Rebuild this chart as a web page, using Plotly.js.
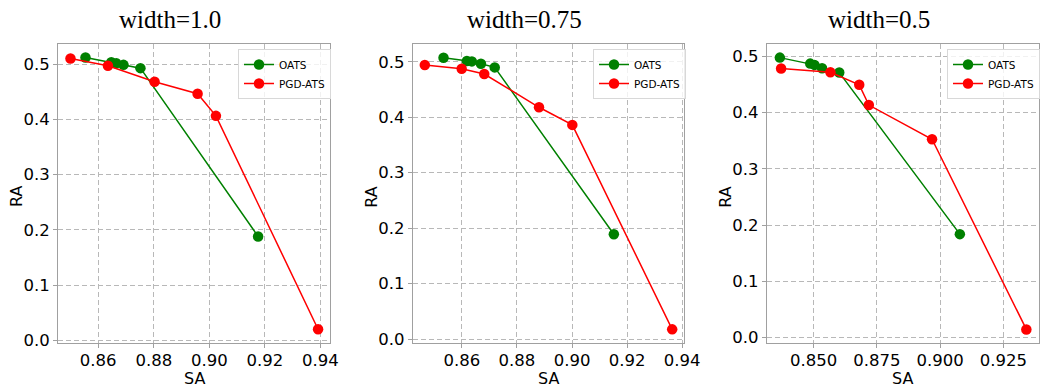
<!DOCTYPE html>
<html>
<head>
<meta charset="utf-8">
<script src="https://cdn.plot.ly/plotly-3.0.1.min.js"></script>
<style>
  body { margin: 0; padding: 0; background: #fff; }
  #graph { width: 1056px; height: 391px; }
</style>
</head>
<body>
<div id="graph"></div>
<script>
// Values, one set per width
const panelTitles = ["width=1.0", "width=0.75", "width=0.5"];

const oatsSA_w100 = [0.8554, 0.8647, 0.8665, 0.8691, 0.8752, 0.9176];
const oatsRA_w100 = [0.512, 0.5036, 0.5018, 0.4988, 0.4928, 0.1883];
const pgdSA_w100 = [0.8500, 0.8635, 0.8803, 0.8958, 0.9024, 0.9392];
const pgdRA_w100 = [0.5102, 0.497, 0.4682, 0.4466, 0.4065, 0.0204];

const oatsSA_w075 = [0.8533, 0.8618, 0.8636, 0.8669, 0.8719, 0.9152];
const oatsRA_w075 = [0.5072, 0.5012, 0.5006, 0.4964, 0.4898, 0.1888];
const pgdSA_w075 = [0.8465, 0.8599, 0.8681, 0.8880, 0.9001, 0.9364];
const pgdRA_w075 = [0.494, 0.4874, 0.4778, 0.4179, 0.3861, 0.0174];

const oatsSA_w050 = [0.8366, 0.8486, 0.8503, 0.8533, 0.8601, 0.9078];
const oatsRA_w050 = [0.4976, 0.487, 0.4847, 0.4788, 0.4711, 0.184];
const pgdSA_w050 = [0.8371, 0.8566, 0.8680, 0.8718, 0.8968, 0.9341];
const pgdRA_w050 = [0.4782, 0.4717, 0.4493, 0.4133, 0.3526, 0.0147];

const oatsColor = "#008000";
const pgdColor = "#ff0000";

const W = 1056, H = 391;
const px = v => v / W;
const py = v => (H - v) / H;

const panels = [
  { oats: [oatsSA_w100, oatsRA_w100], pgd: [pgdSA_w100, pgdRA_w100],
    x0: 58, x1: 330, xr: [0.8455, 0.9435], yr: [-0.0045, 0.5365],
    dtick: 0.02, fmt: ".2f", titleX: 169.5, legX: 238 },
  { oats: [oatsSA_w075, oatsRA_w075], pgd: [pgdSA_w075, pgdRA_w075],
    x0: 412.7, x1: 684.3, xr: [0.8421, 0.9408], yr: [-0.0072, 0.532],
    dtick: 0.02, fmt: ".2f", titleX: 524, legX: 593 },
  { oats: [oatsSA_w050, oatsRA_w050], pgd: [pgdSA_w050, pgdRA_w050],
    x0: 766.7, x1: 1039, xr: [0.8314, 0.9391], yr: [-0.0094, 0.5218],
    dtick: 0.025, fmt: ".3f", titleX: 878.7, legX: 947 }
];

const labelFont = { family: "DejaVu Sans", size: 16, color: "#000" };

const traces = [];
const layout = {
  width: W, height: H,
  margin: { l: 0, r: 0, t: 0, b: 0 },
  paper_bgcolor: "#fff",
  plot_bgcolor: "#fff",
  font: { family: "DejaVu Sans", color: "#000" },
  showlegend: true,
  annotations: []
};

panels.forEach((p, i) => {
  const n = i === 0 ? "" : String(i + 1);
  const legName = i === 0 ? "legend" : "legend" + (i + 1);
  traces.push({
    x: p.oats[0], y: p.oats[1], xaxis: "x" + n, yaxis: "y" + n,
    type: "scatter", mode: "lines+markers", name: "OATS", legend: legName,
    line: { color: oatsColor, width: 1.5 },
    marker: { color: oatsColor, size: 10.5 }
  });
  traces.push({
    x: p.pgd[0], y: p.pgd[1], xaxis: "x" + n, yaxis: "y" + n,
    type: "scatter", mode: "lines+markers", name: "PGD-ATS", legend: legName,
    line: { color: pgdColor, width: 1.5 },
    marker: { color: pgdColor, size: 10.5 }
  });

  const common = {
    showline: true, mirror: true, linecolor: "#a0a0a0", linewidth: 1,
    showgrid: true, gridcolor: "#b8b8b8", griddash: "5px,3px", gridwidth: 1,
    zeroline: false, ticks: "outside", ticklen: 4, tickcolor: "#a0a0a0",
    tickfont: { family: "DejaVu Sans", size: 16.5, color: "#000" },
    automargin: false, fixedrange: true
  };
  layout["xaxis" + n] = Object.assign({}, common, {
    domain: [px(p.x0), px(p.x1)], anchor: "y" + n,
    range: p.xr, dtick: p.dtick, tick0: 0, tickformat: p.fmt,
    ticklabelstandoff: -2
  });
  layout["yaxis" + n] = Object.assign({}, common, {
    domain: [py(343), py(44)], anchor: "x" + n,
    range: p.yr, dtick: 0.1, tick0: 0, tickformat: ".1f"
  });
  layout[legName] = {
    x: px(p.legX), y: py(49), xanchor: "left", yanchor: "top",
    bgcolor: "rgba(255,255,255,0.8)", bordercolor: "#d8d8d8", borderwidth: 1,
    font: { family: "DejaVu Sans", size: 10.5, color: "#000" },
    tracegroupgap: 0, itemwidth: 30
  };
  // panel title
  layout.annotations.push({
    text: panelTitles[i], xref: "paper", yref: "paper",
    x: px(p.titleX), y: py(20), xanchor: "center", yanchor: "middle",
    showarrow: false,
    font: { family: "Liberation Serif", size: 25, color: "#000" }
  });
  // axis titles
  layout.annotations.push({
    text: "SA", xref: "paper", yref: "paper",
    x: px((p.x0 + p.x1) / 2), y: py(378), xanchor: "center", yanchor: "middle",
    showarrow: false, font: labelFont
  });
  layout.annotations.push({
    text: "RA", xref: "paper", yref: "paper", textangle: -90,
    x: px(p.x0 - 42), y: py(197), xanchor: "center", yanchor: "middle",
    showarrow: false, font: labelFont
  });
});

Plotly.newPlot("graph", traces, layout, { displayModeBar: false, staticPlot: true });
</script>
</body>
</html>
